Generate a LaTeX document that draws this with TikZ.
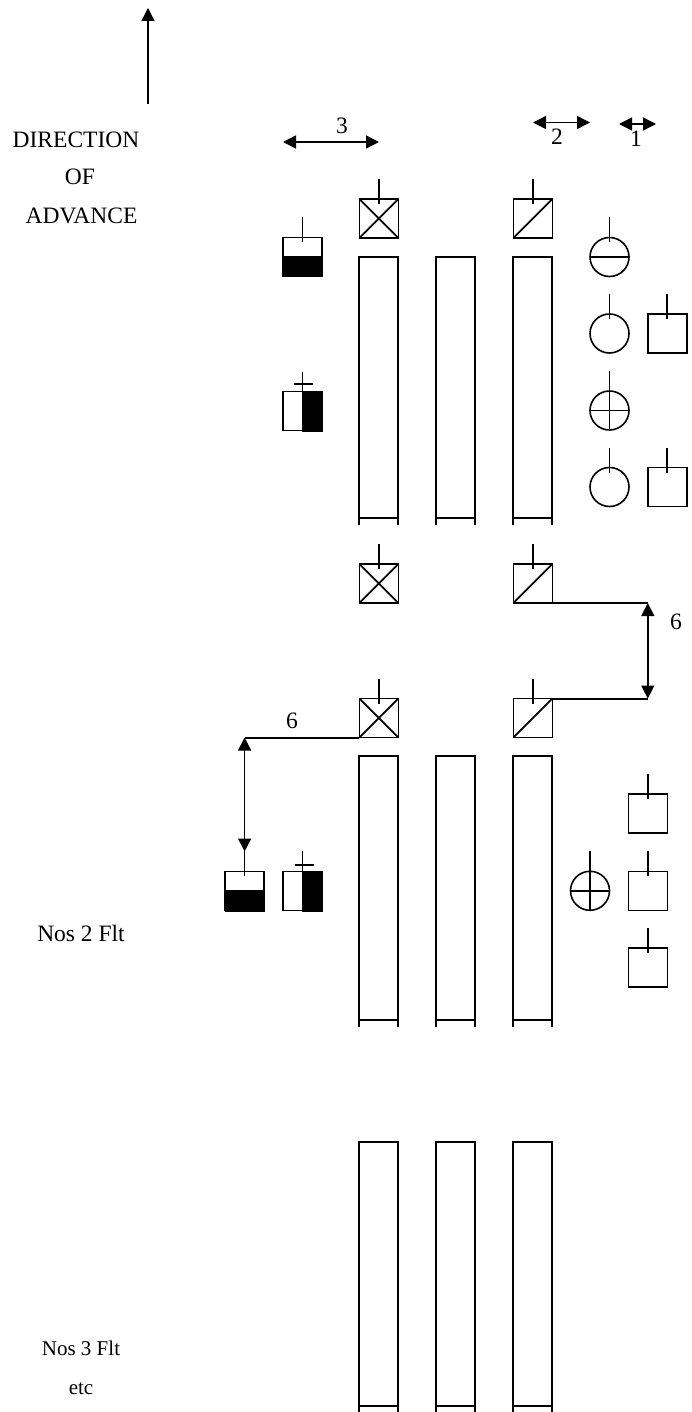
\documentclass[tikz,border=0pt]{standalone}
\usepackage{fontspec}
\setmainfont{Liberation Serif}
\usetikzlibrary{arrows.meta}
\tikzset{
  x=1pt, y=-1pt,
  every node/.append style={font=\fontsize{23.5}{26}\selectfont, inner sep=0pt, outer sep=0pt},
  smalltext/.style={font=\fontsize{21}{23}\selectfont},
  thinline/.style={line width=1.6pt},
  plainbox/.style={draw, line width=1.6pt, rectangle, minimum size=39pt},
  crossbox/.style={plainbox, path picture={
    \draw[line width=1.8pt] (path picture bounding box.south west) -- (path picture bounding box.north east);
    \draw[line width=1.8pt] (path picture bounding box.north west) -- (path picture bounding box.south east);}},
  slashbox/.style={plainbox, path picture={
    \draw[line width=1.8pt] (path picture bounding box.south west) -- (path picture bounding box.north east);}},
  plaincirc/.style={draw, line width=1.6pt, circle, minimum size=39pt},
  barbox/.style={draw, line width=2pt, rectangle, minimum width=39pt, anchor=north},
  dimarrow/.style={line width=1.4pt, {Triangle[length=13pt,width=13pt]}-{Triangle[length=13pt,width=13pt]}}
}
\begin{document}
\begin{tikzpicture}
\useasboundingbox (0,0) rectangle (691,1412);

% direction of advance
\coordinate (dirtail) at (148,104);
\coordinate (dirhead) at (148,8);
\draw[line width=1.4pt, -{Triangle[length=13pt,width=13pt]}] (dirtail) -- (dirhead);
\node[anchor=base] (dirtext) at (76,148) {DIRECTION};
\node[anchor=base] (oftext) at (80,185) {OF};
\node[anchor=base] (advtext) at (81.5,224) {ADVANCE};
\node[anchor=base] (flt2) at (81,941) {Nos 2 Flt};
\node[anchor=base, smalltext] (flt3) at (81,1355) {Nos 3 Flt};
\node[anchor=base, smalltext] (fltetc) at (81,1394) {etc};

% interval arrows
\coordinate (a3l) at (283,142);
\coordinate (a3r) at (379,142);
\coordinate (a2l) at (533,122.5);
\coordinate (a2r) at (590,122.5);
\coordinate (a1l) at (619,124);
\coordinate (a1r) at (656,124);
\draw[dimarrow] (a3l) -- (a3r);
\draw[dimarrow] (a2l) -- (a2r);
\draw[dimarrow] (a1l) -- (a1r);
\node[anchor=base] (lab3) at (342,134) {3};
\node[anchor=base] (lab2) at (557,145) {2};
\node[anchor=base] (lab1) at (636,147) {1};

% bars, three columns by three flights
\foreach \c/\x in {a/378.8, b/455.8, c/532.8}{
  \foreach \r/\ytop/\ylow in {1/257/517.5, 2/756/1019.5, 3/1141.5/1405.5}{
    \node[barbox, minimum height=\ylow pt-\ytop pt] (bar\c\r) at (\x,\ytop) {};
    \draw[line width=2pt] (bar\c\r.south west) -- ++(0,7);
    \draw[line width=2pt] (bar\c\r.south east) -- ++(0,7);
  }
}

% squares with a cross or a slash
\node[crossbox] (xa) at (378.8,218.5) {};
\node[slashbox] (sa) at (532.8,218.5) {};
\node[crossbox] (xb) at (378.8,583.5) {};
\node[slashbox] (sb) at (532.8,583.5) {};
\node[crossbox] (xc) at (378.8,718) {};
\node[slashbox] (sc) at (532.8,718) {};

% half filled boxes
\node[plainbox] (ha) at (302.3,257) {};
\fill (282,256.5) rectangle (323,277);
\node[plainbox] (va) at (302.3,411) {};
\fill (302,391) rectangle (323,431.5);
\node[plainbox] (hb) at (244.6,890.8) {};
\fill (224.5,890) rectangle (265,911.5);
\node[plainbox] (vb) at (302.3,890.8) {};
\fill (302,870.5) rectangle (323,911.5);

% circles
\node[plaincirc] (ca) at (609.5,257) {};
\node[plaincirc] (cb) at (609.5,333.5) {};
\node[plaincirc] (cc) at (609.5,410.5) {};
\node[plaincirc] (cd) at (609.5,487) {};
\node[plaincirc] (ce) at (590,890.8) {};
\draw[thinline] (ca.west) -- (ca.east);
\draw[thinline] (cc.west) -- (cc.east);
\draw[thinline] (cc.north) -- (cc.south);
\draw[thinline] (ce.west) -- (ce.east);
\draw[thinline] (ce.north) -- (ce.south);

% plain squares
\node[plainbox] (qa) at (667.2,333.5) {};
\node[plainbox] (qb) at (667.2,487) {};
\node[plainbox] (qc) at (647.8,813.5) {};
\node[plainbox] (qd) at (647.8,890.8) {};
\node[plainbox] (qe) at (647.8,967.5) {};

% stems
\foreach \n in {xa,sa,xb,sb,xc,sc,ha,ca,cb,cc,cd,ce,qa,qb,qc,qd,qe,hb,va,vb}{
  \draw[thinline] (\n.north) ++(0,-20) -- ++(0,25);
}
\coordinate (crossa) at (303.5,384);
\draw[line width=2pt] (crossa) ++(-9.5,0) -- ++(19,0);
\coordinate (crossb) at (304.5,864.5);
\draw[line width=2pt] (crossb) ++(-9.5,0) -- ++(19,0);

% spacing 6 on the right
\coordinate (rtop) at (647.8,603);
\coordinate (rlow) at (647.8,698.5);
\draw[line width=2pt] (sb.south east) -- (rtop);
\draw[line width=2pt] (sc.north east) -- (rlow);
\draw[dimarrow] (rtop) -- (rlow);
\node[anchor=base] (lab6r) at (676,629) {6};

% spacing 6 on the left
\coordinate (ltop) at (244.6,737.5);
\coordinate (llow) at (244.6,851.5);
\draw[line width=2pt] (xc.south west) -- (ltop);
\draw[dimarrow] (ltop) -- (llow);
\node[anchor=base] (lab6l) at (292,728) {6};
\end{tikzpicture}
\end{document}
